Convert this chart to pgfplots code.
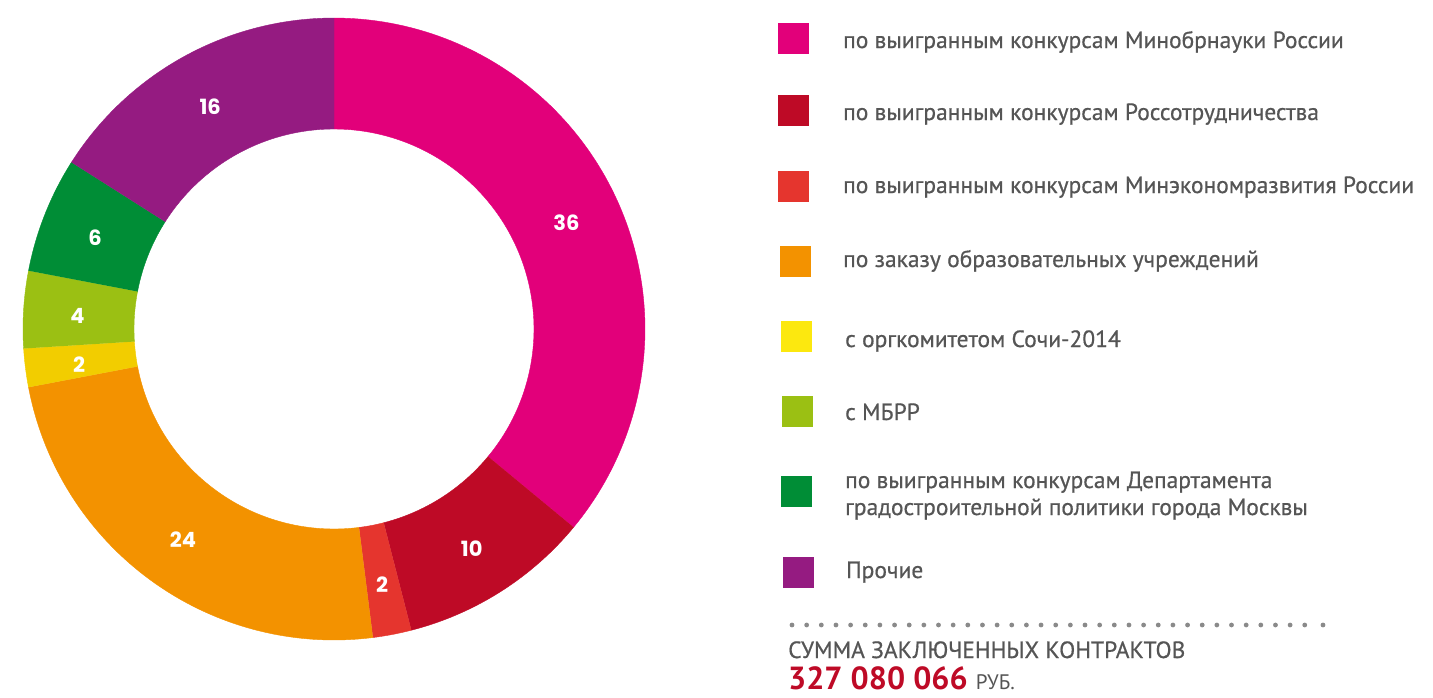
\documentclass[border=0pt]{standalone}
\usepackage{fontspec}
\setmainfont{PT Sans}[BoldFont={PT Sans}, BoldFeatures={FakeBold=0.6}]
\newfontfamily\sumfont{PT Sans}
\newfontfamily\numfont{Poppins}
\usepackage{pgfplots}
\pgfplotsset{compat=1.18}
\definecolor{cA}{HTML}{E2007A}
\definecolor{cB}{HTML}{BE0A26}
\definecolor{cC}{HTML}{E5352E}
\definecolor{cD}{HTML}{F39200}
\definecolor{cE}{HTML}{F2CD00}
\definecolor{cEl}{HTML}{FCE80F}
\definecolor{cF}{HTML}{9BC013}
\definecolor{cG}{HTML}{008D36}
\definecolor{cH}{HTML}{951B81}
\definecolor{txt}{HTML}{555555}
\definecolor{sumred}{HTML}{BE0A26}
\definecolor{dotc}{HTML}{8A8A8A}

\newcommand\numstyle{\numfont\bfseries\fontsize{21}{21}\selectfont}
\newcommand\legstyle{\fontsize{23.5}{27}\selectfont\bfseries\color{txt}}
\gdef\cum{0}
% one donut slice: value, colour
\newcommand\donutslice[2]{%
  \pgfmathsetmacro\A{3.6*\cum}%
  \pgfmathsetmacro\B{3.6*(\cum+#1)}%
  \addplot[fill=#2, draw=#2, line width=0.4pt, domain=0:3, samples=301, variable=\t]
   ({334+(311-111*max(0,min(\t-1,1)))*sin(\A+(\B-\A)*min(\t,1,3-\t))},
    {329-(311-111*max(0,min(\t-1,1)))*cos(\A+(\B-\A)*min(\t,1,3-\t))});
  \pgfmathsetmacro\M{(\A+\B)/2}%
  \pgfmathsetmacro\lx{334+257*sin(\M)}%
  \pgfmathsetmacro\ly{332-257*cos(\M)}%
  \edef\temp{\noexpand\node[text=white, font=\noexpand\numstyle, inner sep=0pt] at (axis cs:\lx,\ly) {#1};}\temp
  \pgfmathsetmacro\newcum{\cum+#1}%
  \xdef\cum{\newcum}%
}

\begin{document}
\begin{tikzpicture}
\useasboundingbox (0,0) rectangle (1433pt,697pt);
\begin{axis}[
  scale only axis, width=1433pt, height=697pt,
  xmin=0, xmax=1433, ymin=0, ymax=697, y dir=reverse,
  hide axis, clip=false, anchor=south west, at={(0,0)}]
\donutslice{36}{cA}
\donutslice{10}{cB}
\donutslice{2}{cC}
\donutslice{24}{cD}
\donutslice{2}{cE}
\donutslice{4}{cF}
\donutslice{6}{cG}
\donutslice{16}{cH}

% legend
\fill[cA]  (axis cs:778,23)  rectangle (axis cs:809,54);
\fill[cB]  (axis cs:778,95)  rectangle (axis cs:809,126);
\fill[cC]  (axis cs:778,171) rectangle (axis cs:809,202);
\fill[cD]  (axis cs:780,246) rectangle (axis cs:811,277);
\fill[cEl] (axis cs:781,321) rectangle (axis cs:812,352);
\fill[cF]  (axis cs:782,396) rectangle (axis cs:813,427);
\fill[cG]  (axis cs:781,476) rectangle (axis cs:812,507);
\fill[cH]  (axis cs:783,557) rectangle (axis cs:814,588);

\node[anchor=base west, inner sep=0pt, font=\legstyle] at (axis cs:843,48)  {по выигранным конкурсам Минобрнауки России};
\node[anchor=base west, inner sep=0pt, font=\legstyle] at (axis cs:843,120) {по выигранным конкурсам Россотрудничества};
\node[anchor=base west, inner sep=0pt, font=\legstyle] at (axis cs:843,193) {по выигранным конкурсам Минэкономразвития России};
\node[anchor=base west, inner sep=0pt, font=\legstyle] at (axis cs:843,267) {по заказу образовательных учреждений};
\node[anchor=base west, inner sep=0pt, font=\legstyle] at (axis cs:845,347) {с оргкомитетом Сочи-2014};
\node[anchor=base west, inner sep=0pt, font=\legstyle] at (axis cs:845,420) {с МБРР};
\node[anchor=base west, inner sep=0pt, font=\legstyle] at (axis cs:845,488) {по выигранным конкурсам Департамента};
\node[anchor=base west, inner sep=0pt, font=\legstyle] at (axis cs:845,515) {градостроительной политики города Москвы};
\node[anchor=base west, inner sep=0pt, font=\legstyle] at (axis cs:846,578) {Прочие};

\node[anchor=base west, inner sep=0pt, font=\legstyle] at (axis cs:788,658) {СУММА ЗАКЛЮЧЕННЫХ КОНТРАКТОВ};
\node[anchor=base west, inner sep=0pt] at (axis cs:788,689) {\sumfont\fontsize{32}{32}\selectfont\bfseries\color{sumred}327~080~066\ \fontsize{21}{21}\selectfont\mdseries\color{txt}РУБ.};
\end{axis}
% dotted separator
\foreach \k in {0,...,35} {
  \fill[dotc] ({(792+14.65*\k)*1pt},72pt) circle[radius=2.4pt];
}
\fill[dotc] (1323pt,72pt) circle[radius=2.4pt];
\end{tikzpicture}
\end{document}
